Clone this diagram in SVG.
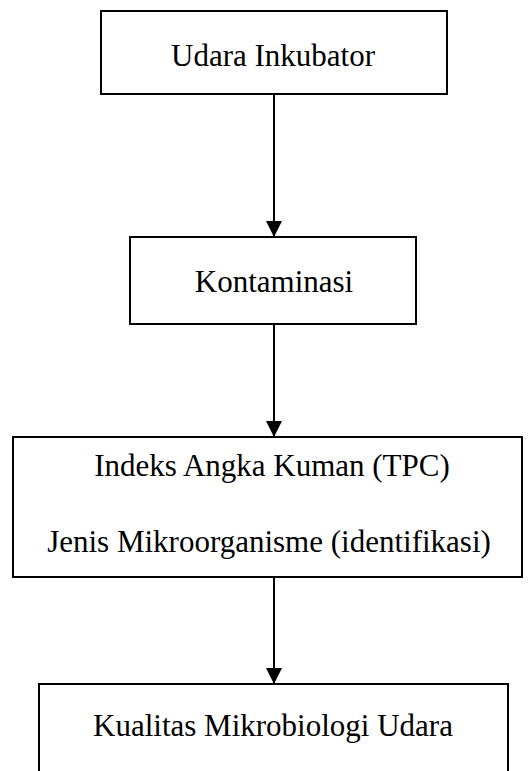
<svg xmlns="http://www.w3.org/2000/svg" width="530" height="771" viewBox="0 0 530 771">
<style>
.box{fill:#fff;stroke:#000;stroke-width:2}
.lbl{font-family:"Liberation Serif","Times New Roman",serif;font-size:31px;fill:#000;text-anchor:middle}
.conn{stroke:#000;stroke-width:2;fill:none}
</style>
<defs>
<marker id="arr" markerUnits="userSpaceOnUse" markerWidth="16" markerHeight="16" viewBox="0 0 16 16" refX="16" refY="8" orient="auto">
<path d="M0,0 L16,8 L0,16 Z" fill="#000"/>
</marker>
</defs>
<rect width="530" height="771" fill="#fff"/>
<g id="n1">
<rect class="box" x="101" y="11" width="346" height="83"/>
<text class="lbl" x="273" y="66">Udara Inkubator</text>
</g>
<g id="n2">
<rect class="box" x="130" y="237" width="286" height="87"/>
<text class="lbl" x="274" y="292">Kontaminasi</text>
</g>
<g id="n3">
<rect class="box" x="13" y="437" width="509" height="140"/>
<text class="lbl" x="272" y="476">Indeks Angka Kuman (TPC)</text>
<text class="lbl" x="269" y="552">Jenis Mikroorganisme (identifikasi)</text>
</g>
<g id="n4">
<rect class="box" x="39" y="684" width="469" height="100"/>
<text class="lbl" x="273" y="736">Kualitas Mikrobiologi Udara</text>
</g>
<g id="connectors">
<line class="conn" x1="274" y1="94" x2="274" y2="237" marker-end="url(#arr)"/>
<line class="conn" x1="274" y1="324" x2="274" y2="437" marker-end="url(#arr)"/>
<line class="conn" x1="274" y1="577" x2="274" y2="684" marker-end="url(#arr)"/>
</g>
</svg>
